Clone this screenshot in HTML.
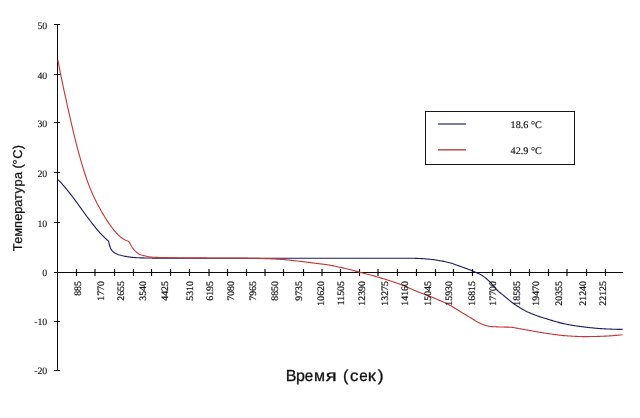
<!DOCTYPE html>
<html><head><meta charset="utf-8"><style>
html,body{margin:0;padding:0;background:#fff;width:640px;height:418px;overflow:hidden;position:relative;font-family:"Liberation Sans",sans-serif}
</style></head><body>
<svg width="640" height="418" viewBox="0 0 640 418" style="position:absolute;left:0;top:0;will-change:transform;text-rendering:geometricPrecision">
<g stroke="#0a0a0a" stroke-width="1" fill="none" shape-rendering="crispEdges">
<path d="M57.5 24 V371 M57 272.5 H623"/>
<path d="M54 24.5 H60 M54 74.5 H60 M54 122.5 H60 M54 172.5 H60 M54 222.5 H60 M54 272.5 H60 M54 321.5 H60 M54 370.5 H60"/>
</g>
<path stroke="#0a0a0a" stroke-width="1.15" fill="none" d="M76.5 269 V276 M95.0 269 V276 M114.5 269 V276 M133.5 269 V276 M151.5 269 V276 M170.5 269 V276 M189.5 269 V276 M209.0 269 V276 M227.5 269 V276 M246.5 269 V276 M265.0 269 V276 M283.5 269 V276 M303.5 269 V276 M322.0 269 V276 M340.5 269 V276 M359.5 269 V276 M378.0 269 V276 M397.5 269 V276 M416.5 269 V276 M435.5 269 V276 M453.5 269 V276 M472.5 269 V276 M492.5 269 V276 M510.5 269 V276 M529.5 269 V276 M548.5 269 V276 M567.0 269 V276 M586.5 269 V276 M605.5 269 V276"/>
<g>
</g>
<path d="M57.90,179.60 L58.90,180.58 59.90,181.60 60.90,182.65 61.90,183.73 62.90,184.84 63.90,185.98 64.90,187.15 65.90,188.34 66.90,189.56 67.90,190.80 68.90,192.05 69.90,193.33 70.90,194.63 71.90,195.94 72.90,197.26 73.90,198.60 74.90,199.95 75.90,201.31 76.90,202.67 77.90,204.05 78.90,205.43 79.90,206.81 80.90,208.19 81.90,209.57 82.90,210.96 83.90,212.34 84.90,213.71 85.90,215.08 86.90,216.45 87.90,217.80 88.90,219.14 89.90,220.47 90.90,221.79 91.90,223.09 92.90,224.38 93.90,225.65 94.90,226.90 95.90,228.12 96.90,229.33 97.90,230.50 98.90,231.66 99.90,232.78 100.90,233.88 101.90,234.95 102.90,235.98 103.90,236.98 104.90,237.95 105.90,238.87 106.90,239.76 107.90,240.61 108.50,241.10 L108.50,241.10 L109.50,245.00 110.50,248.00 111.50,249.91 112.50,251.16 113.50,252.07 114.50,252.75 115.50,253.34 116.50,253.85 117.50,254.29 118.50,254.67 119.50,254.99 120.50,255.28 121.50,255.56 122.50,255.80 123.50,256.02 124.50,256.22 125.50,256.40 126.50,256.56 127.50,256.71 128.50,256.86 129.50,257.00 130.50,257.14 131.50,257.26 132.50,257.37 133.50,257.48 134.50,257.56 135.50,257.63 136.50,257.69 137.50,257.73 138.50,257.76 139.50,257.80 140.50,257.83 141.50,257.87 142.50,257.89 143.50,257.92 144.50,257.95 145.50,257.97 146.50,257.99 147.50,258.01 148.50,258.03 149.50,258.05 150.50,258.06 151.50,258.07 152.50,258.09 153.50,258.09 154.50,258.10 155.50,258.10 156.50,258.11 157.50,258.11 158.50,258.12 159.50,258.12 160.50,258.12 161.50,258.13 162.50,258.13 163.50,258.14 164.50,258.14 165.50,258.14 166.50,258.15 167.50,258.15 168.50,258.15 169.50,258.16 170.50,258.16 171.50,258.16 172.50,258.16 173.50,258.17 174.50,258.17 175.50,258.17 176.50,258.17 177.50,258.18 178.50,258.18 179.50,258.18 180.50,258.18 181.50,258.18 182.50,258.19 183.50,258.19 184.50,258.19 185.50,258.19 186.50,258.19 187.50,258.19 188.50,258.19 189.50,258.19 190.50,258.20 191.50,258.20 192.50,258.20 193.50,258.20 194.50,258.20 195.50,258.20 196.50,258.20 197.50,258.20 198.50,258.20 199.50,258.20 200.50,258.20 201.50,258.20 202.50,258.20 203.50,258.20 204.50,258.20 205.50,258.20 206.50,258.20 207.50,258.20 208.50,258.20 209.50,258.20 210.50,258.20 211.50,258.20 212.50,258.20 213.50,258.20 214.50,258.20 215.50,258.20 216.50,258.20 217.50,258.20 218.50,258.20 219.50,258.20 220.50,258.20 221.50,258.20 222.50,258.20 223.50,258.20 224.50,258.20 225.50,258.20 226.50,258.20 227.50,258.20 228.50,258.20 229.50,258.20 230.50,258.20 231.50,258.20 232.50,258.20 233.50,258.20 234.50,258.20 235.50,258.20 236.50,258.20 237.50,258.20 238.50,258.20 239.50,258.20 240.50,258.20 241.50,258.20 242.50,258.20 243.50,258.20 244.50,258.20 245.50,258.20 246.50,258.20 247.50,258.20 248.50,258.20 249.50,258.20 250.50,258.20 251.50,258.20 252.50,258.20 253.50,258.20 254.50,258.20 255.50,258.20 256.50,258.20 257.50,258.20 258.50,258.20 259.50,258.20 260.50,258.20 261.50,258.20 262.50,258.20 263.50,258.20 264.50,258.20 265.50,258.20 266.50,258.20 267.50,258.20 268.50,258.20 269.50,258.20 270.50,258.20 271.50,258.20 272.50,258.20 273.50,258.20 274.50,258.20 275.50,258.20 276.50,258.20 277.50,258.20 278.50,258.20 279.50,258.20 280.50,258.20 281.50,258.20 282.50,258.20 283.50,258.20 284.50,258.20 285.50,258.20 286.50,258.20 287.50,258.20 288.50,258.20 289.50,258.20 290.50,258.20 291.50,258.20 292.50,258.20 293.50,258.20 294.50,258.20 295.50,258.20 296.50,258.20 297.50,258.20 298.50,258.20 299.50,258.20 300.50,258.20 301.50,258.20 302.50,258.20 303.50,258.20 304.50,258.20 305.50,258.20 306.50,258.20 307.50,258.20 308.50,258.20 309.50,258.20 310.50,258.20 311.50,258.20 312.50,258.20 313.50,258.20 314.50,258.20 315.50,258.20 316.50,258.20 317.50,258.20 318.50,258.20 319.50,258.20 320.50,258.20 321.50,258.20 322.50,258.20 323.50,258.20 324.50,258.20 325.50,258.20 326.50,258.20 327.50,258.20 328.50,258.20 329.50,258.20 330.50,258.20 331.50,258.20 332.50,258.20 333.50,258.20 334.50,258.20 335.50,258.20 336.50,258.20 337.50,258.20 338.50,258.20 339.50,258.20 340.50,258.20 341.50,258.20 342.50,258.20 343.50,258.20 344.50,258.20 345.50,258.20 346.50,258.20 347.50,258.20 348.50,258.20 349.50,258.20 350.50,258.20 351.50,258.20 352.50,258.20 353.50,258.20 354.50,258.20 355.50,258.20 356.50,258.20 357.50,258.20 358.50,258.20 359.50,258.20 360.50,258.20 361.50,258.20 362.50,258.20 363.50,258.20 364.50,258.20 365.50,258.20 366.50,258.20 367.50,258.20 368.50,258.20 369.50,258.20 370.50,258.20 371.50,258.20 372.50,258.20 373.50,258.20 374.50,258.20 375.50,258.20 376.50,258.20 377.50,258.20 378.50,258.20 379.50,258.20 380.50,258.20 381.50,258.20 382.50,258.20 383.50,258.20 384.50,258.20 385.50,258.20 386.50,258.20 387.50,258.20 388.50,258.20 389.50,258.20 390.50,258.20 391.50,258.20 392.50,258.20 393.50,258.20 394.50,258.20 395.50,258.20 396.50,258.20 397.50,258.20 398.50,258.20 399.50,258.20 400.50,258.20 401.50,258.20 402.50,258.20 403.50,258.21 404.50,258.21 405.50,258.22 406.50,258.22 407.50,258.23 408.50,258.24 409.50,258.25 410.50,258.26 411.50,258.27 412.50,258.28 413.50,258.29 414.50,258.31 415.50,258.33 416.50,258.36 417.50,258.39 418.50,258.43 419.50,258.48 420.50,258.52 421.50,258.58 422.50,258.64 423.50,258.70 424.50,258.78 425.50,258.86 426.50,258.94 427.50,259.03 428.50,259.12 429.50,259.22 430.50,259.32 431.50,259.43 432.50,259.54 433.50,259.67 434.50,259.81 435.50,259.96 436.50,260.11 437.50,260.28 438.50,260.44 439.50,260.61 440.50,260.79 441.50,260.96 442.50,261.15 443.50,261.34 444.50,261.53 445.50,261.74 446.50,261.96 447.50,262.18 448.50,262.42 449.50,262.67 450.50,262.95 451.50,263.25 452.50,263.58 453.50,263.93 454.50,264.30 455.50,264.67 456.50,265.05 457.50,265.42 458.50,265.79 459.50,266.14 460.50,266.49 461.50,266.83 462.50,267.18 463.50,267.52 464.50,267.87 465.50,268.22 466.50,268.58 467.50,268.95 468.50,269.32 469.50,269.71 470.50,270.11 471.50,270.51 472.50,270.93 473.50,271.36 474.50,271.79 475.50,272.25 476.50,272.70 477.50,273.15 478.50,273.62 479.50,274.10 480.50,274.60 481.50,275.14 482.50,275.73 483.50,276.36 484.50,277.08 485.50,277.87 486.50,278.72 487.50,279.62 488.50,280.55 489.50,281.51 490.50,282.51 491.50,283.61 492.50,284.79 493.50,286.00 494.50,287.21 495.50,288.39 496.50,289.50 497.50,290.49 498.50,291.40 499.50,292.24 500.50,293.04 501.50,293.82 502.50,294.60 503.50,295.40 504.50,296.23 505.50,297.07 506.50,297.91 507.50,298.76 508.50,299.61 509.50,300.44 510.50,301.25 511.50,302.04 512.50,302.79 513.50,303.50 514.50,304.19 515.50,304.86 516.50,305.53 517.50,306.19 518.50,306.83 519.50,307.46 520.50,308.08 521.50,308.68 522.50,309.26 523.50,309.83 524.50,310.37 525.50,310.90 526.50,311.41 527.50,311.89 528.50,312.36 529.50,312.80 530.50,313.23 531.50,313.64 532.50,314.05 533.50,314.44 534.50,314.82 535.50,315.20 536.50,315.56 537.50,315.92 538.50,316.27 539.50,316.61 540.50,316.94 541.50,317.27 542.50,317.59 543.50,317.91 544.50,318.22 545.50,318.53 546.50,318.84 547.50,319.15 548.50,319.45 549.50,319.75 550.50,320.05 551.50,320.35 552.50,320.65 553.50,320.95 554.50,321.24 555.50,321.53 556.50,321.81 557.50,322.09 558.50,322.36 559.50,322.62 560.50,322.88 561.50,323.13 562.50,323.37 563.50,323.61 564.50,323.83 565.50,324.04 566.50,324.24 567.50,324.43 568.50,324.62 569.50,324.81 570.50,324.99 571.50,325.16 572.50,325.33 573.50,325.50 574.50,325.66 575.50,325.82 576.50,325.97 577.50,326.12 578.50,326.27 579.50,326.41 580.50,326.54 581.50,326.67 582.50,326.80 583.50,326.92 584.50,327.04 585.50,327.16 586.50,327.27 587.50,327.38 588.50,327.49 589.50,327.60 590.50,327.71 591.50,327.82 592.50,327.92 593.50,328.02 594.50,328.12 595.50,328.21 596.50,328.30 597.50,328.38 598.50,328.46 599.50,328.54 600.50,328.61 601.50,328.67 602.50,328.73 603.50,328.79 604.50,328.83 605.50,328.88 606.50,328.93 607.50,328.97 608.50,329.02 609.50,329.06 610.50,329.10 611.50,329.14 612.50,329.18 613.50,329.22 614.50,329.25 615.50,329.28 616.50,329.31 617.50,329.33 618.50,329.35 619.50,329.37 620.50,329.38 621.50,329.39 622.50,329.40 622.60,329.40" stroke="#1c1c66" stroke-width="1.1" fill="none" stroke-linejoin="round"/>
<path d="M57.90,60.22 L58.90,65.46 59.90,70.55 60.90,75.52 61.90,80.37 62.90,85.12 63.90,89.80 64.90,94.42 65.90,98.99 66.90,103.53 67.90,108.05 68.90,112.53 69.90,116.98 70.90,121.36 71.90,125.68 72.90,129.92 73.90,134.08 74.90,138.15 75.90,142.14 76.90,146.03 77.90,149.84 78.90,153.55 79.90,157.17 80.90,160.69 81.90,164.11 82.90,167.43 83.90,170.65 84.90,173.77 85.90,176.78 86.90,179.68 87.90,182.47 88.90,185.15 89.90,187.71 90.90,190.16 91.90,192.50 92.90,194.75 93.90,196.91 94.90,198.99 95.90,201.01 96.90,202.97 97.90,204.89 98.90,206.76 99.90,208.60 100.90,210.40 101.90,212.16 102.90,213.88 103.90,215.56 104.90,217.20 105.90,218.80 106.90,220.36 107.90,221.88 108.90,223.35 109.90,224.78 110.90,226.17 111.90,227.52 112.90,228.82 113.90,230.07 114.90,231.27 115.90,232.41 116.90,233.50 117.90,234.53 118.90,235.50 119.90,236.40 120.90,237.24 121.90,238.01 122.90,238.71 123.90,239.33 124.90,239.88 125.90,240.35 126.90,240.75 127.90,241.06 128.50,241.20 L128.50,241.20 L129.50,242.60 130.50,244.50 131.50,246.21 132.50,247.76 133.50,249.18 134.50,250.35 135.50,251.35 136.50,252.20 137.50,252.97 138.50,253.68 139.50,254.27 140.50,254.70 141.50,255.05 142.50,255.34 143.50,255.60 144.50,255.84 145.50,256.07 146.50,256.29 147.50,256.50 148.50,256.68 149.50,256.84 150.50,256.96 151.50,257.06 152.50,257.16 153.50,257.23 154.50,257.29 155.50,257.33 156.50,257.38 157.50,257.41 158.50,257.45 159.50,257.48 160.50,257.51 161.50,257.54 162.50,257.57 163.50,257.59 164.50,257.61 165.50,257.63 166.50,257.65 167.50,257.67 168.50,257.68 169.50,257.69 170.50,257.71 171.50,257.72 172.50,257.73 173.50,257.74 174.50,257.75 175.50,257.76 176.50,257.76 177.50,257.77 178.50,257.78 179.50,257.79 180.50,257.80 181.50,257.80 182.50,257.81 183.50,257.82 184.50,257.82 185.50,257.83 186.50,257.83 187.50,257.84 188.50,257.85 189.50,257.85 190.50,257.86 191.50,257.86 192.50,257.87 193.50,257.87 194.50,257.88 195.50,257.88 196.50,257.88 197.50,257.89 198.50,257.89 199.50,257.90 200.50,257.90 201.50,257.91 202.50,257.91 203.50,257.91 204.50,257.92 205.50,257.92 206.50,257.92 207.50,257.93 208.50,257.93 209.50,257.93 210.50,257.94 211.50,257.94 212.50,257.94 213.50,257.94 214.50,257.95 215.50,257.95 216.50,257.95 217.50,257.95 218.50,257.96 219.50,257.96 220.50,257.96 221.50,257.97 222.50,257.97 223.50,257.97 224.50,257.98 225.50,257.98 226.50,257.98 227.50,257.99 228.50,257.99 229.50,258.00 230.50,258.00 231.50,258.01 232.50,258.01 233.50,258.02 234.50,258.03 235.50,258.04 236.50,258.04 237.50,258.05 238.50,258.06 239.50,258.07 240.50,258.08 241.50,258.09 242.50,258.10 243.50,258.11 244.50,258.13 245.50,258.14 246.50,258.15 247.50,258.16 248.50,258.18 249.50,258.19 250.50,258.21 251.50,258.22 252.50,258.24 253.50,258.26 254.50,258.29 255.50,258.31 256.50,258.34 257.50,258.36 258.50,258.39 259.50,258.42 260.50,258.45 261.50,258.48 262.50,258.52 263.50,258.55 264.50,258.58 265.50,258.62 266.50,258.65 267.50,258.69 268.50,258.73 269.50,258.77 270.50,258.81 271.50,258.85 272.50,258.90 273.50,258.94 274.50,258.99 275.50,259.04 276.50,259.09 277.50,259.15 278.50,259.21 279.50,259.27 280.50,259.33 281.50,259.40 282.50,259.48 283.50,259.56 284.50,259.65 285.50,259.74 286.50,259.84 287.50,259.94 288.50,260.05 289.50,260.15 290.50,260.26 291.50,260.38 292.50,260.49 293.50,260.61 294.50,260.72 295.50,260.84 296.50,260.95 297.50,261.07 298.50,261.18 299.50,261.29 300.50,261.40 301.50,261.52 302.50,261.63 303.50,261.75 304.50,261.87 305.50,261.99 306.50,262.11 307.50,262.23 308.50,262.36 309.50,262.48 310.50,262.61 311.50,262.73 312.50,262.86 313.50,262.99 314.50,263.11 315.50,263.24 316.50,263.37 317.50,263.50 318.50,263.63 319.50,263.75 320.50,263.88 321.50,264.01 322.50,264.13 323.50,264.26 324.50,264.39 325.50,264.53 326.50,264.66 327.50,264.81 328.50,264.96 329.50,265.12 330.50,265.28 331.50,265.46 332.50,265.65 333.50,265.84 334.50,266.05 335.50,266.26 336.50,266.47 337.50,266.70 338.50,266.92 339.50,267.16 340.50,267.39 341.50,267.63 342.50,267.86 343.50,268.10 344.50,268.34 345.50,268.58 346.50,268.81 347.50,269.06 348.50,269.30 349.50,269.55 350.50,269.80 351.50,270.06 352.50,270.32 353.50,270.58 354.50,270.84 355.50,271.10 356.50,271.36 357.50,271.62 358.50,271.89 359.50,272.15 360.50,272.41 361.50,272.67 362.50,272.93 363.50,273.19 364.50,273.45 365.50,273.71 366.50,273.97 367.50,274.23 368.50,274.49 369.50,274.75 370.50,275.02 371.50,275.29 372.50,275.56 373.50,275.84 374.50,276.12 375.50,276.40 376.50,276.68 377.50,276.97 378.50,277.27 379.50,277.56 380.50,277.85 381.50,278.15 382.50,278.45 383.50,278.75 384.50,279.06 385.50,279.36 386.50,279.67 387.50,279.98 388.50,280.30 389.50,280.62 390.50,280.94 391.50,281.27 392.50,281.60 393.50,281.94 394.50,282.28 395.50,282.62 396.50,282.97 397.50,283.32 398.50,283.68 399.50,284.05 400.50,284.42 401.50,284.81 402.50,285.22 403.50,285.63 404.50,286.05 405.50,286.48 406.50,286.91 407.50,287.35 408.50,287.79 409.50,288.23 410.50,288.67 411.50,289.12 412.50,289.56 413.50,289.99 414.50,290.43 415.50,290.85 416.50,291.27 417.50,291.68 418.50,292.08 419.50,292.47 420.50,292.85 421.50,293.22 422.50,293.59 423.50,293.96 424.50,294.33 425.50,294.69 426.50,295.06 427.50,295.44 428.50,295.81 429.50,296.20 430.50,296.60 431.50,297.00 432.50,297.41 433.50,297.83 434.50,298.25 435.50,298.67 436.50,299.09 437.50,299.52 438.50,299.95 439.50,300.38 440.50,300.81 441.50,301.24 442.50,301.66 443.50,302.09 444.50,302.52 445.50,302.96 446.50,303.42 447.50,303.90 448.50,304.41 449.50,304.94 450.50,305.51 451.50,306.09 452.50,306.69 453.50,307.30 454.50,307.93 455.50,308.56 456.50,309.19 457.50,309.82 458.50,310.44 459.50,311.06 460.50,311.66 461.50,312.27 462.50,312.87 463.50,313.48 464.50,314.09 465.50,314.70 466.50,315.31 467.50,315.92 468.50,316.52 469.50,317.12 470.50,317.73 471.50,318.32 472.50,318.92 473.50,319.55 474.50,320.19 475.50,320.84 476.50,321.46 477.50,322.06 478.50,322.61 479.50,323.10 480.50,323.52 481.50,323.92 482.50,324.31 483.50,324.69 484.50,325.05 485.50,325.39 486.50,325.69 487.50,325.95 488.50,326.16 489.50,326.33 490.50,326.44 491.50,326.53 492.50,326.61 493.50,326.69 494.50,326.76 495.50,326.81 496.50,326.87 497.50,326.91 498.50,326.95 499.50,326.98 500.50,327.01 501.50,327.04 502.50,327.06 503.50,327.07 504.50,327.08 505.50,327.10 506.50,327.11 507.50,327.13 508.50,327.15 509.50,327.18 510.50,327.21 511.50,327.29 512.50,327.41 513.50,327.56 514.50,327.74 515.50,327.93 516.50,328.13 517.50,328.33 518.50,328.51 519.50,328.68 520.50,328.86 521.50,329.03 522.50,329.21 523.50,329.39 524.50,329.57 525.50,329.75 526.50,329.93 527.50,330.11 528.50,330.28 529.50,330.46 530.50,330.63 531.50,330.81 532.50,330.99 533.50,331.17 534.50,331.35 535.50,331.52 536.50,331.70 537.50,331.88 538.50,332.05 539.50,332.23 540.50,332.40 541.50,332.57 542.50,332.73 543.50,332.89 544.50,333.05 545.50,333.21 546.50,333.36 547.50,333.50 548.50,333.64 549.50,333.79 550.50,333.93 551.50,334.08 552.50,334.22 553.50,334.37 554.50,334.51 555.50,334.65 556.50,334.78 557.50,334.91 558.50,335.04 559.50,335.16 560.50,335.28 561.50,335.39 562.50,335.49 563.50,335.58 564.50,335.67 565.50,335.75 566.50,335.81 567.50,335.88 568.50,335.94 569.50,336.00 570.50,336.06 571.50,336.12 572.50,336.18 573.50,336.24 574.50,336.29 575.50,336.34 576.50,336.39 577.50,336.43 578.50,336.47 579.50,336.51 580.50,336.54 581.50,336.56 582.50,336.58 583.50,336.59 584.50,336.60 585.50,336.60 586.50,336.60 587.50,336.59 588.50,336.58 589.50,336.57 590.50,336.56 591.50,336.54 592.50,336.52 593.50,336.50 594.50,336.48 595.50,336.45 596.50,336.43 597.50,336.40 598.50,336.37 599.50,336.34 600.50,336.31 601.50,336.28 602.50,336.24 603.50,336.21 604.50,336.17 605.50,336.13 606.50,336.09 607.50,336.03 608.50,335.97 609.50,335.91 610.50,335.84 611.50,335.76 612.50,335.69 613.50,335.60 614.50,335.51 615.50,335.42 616.50,335.33 617.50,335.23 618.50,335.13 619.50,335.03 620.50,334.93 621.50,334.82 622.50,334.71 622.60,334.70" stroke="#c83434" stroke-width="1.1" fill="none" stroke-linejoin="round"/>
<g font-family="Liberation Serif" font-size="9.9" fill="#111" stroke="#111" stroke-width="0.1" text-anchor="end">
<text x="47.3" y="28.50">50</text>
<text x="47.3" y="78.50">40</text>
<text x="47.3" y="126.90">30</text>
<text x="47.3" y="176.60">20</text>
<text x="47.3" y="226.60">10</text>
<text x="47.3" y="276.30">0</text>
<text x="47.3" y="325.20">-10</text>
<text x="47.3" y="374.40">-20</text>
</g>
<g font-family="Liberation Serif" font-size="9.9" fill="#111" stroke="#111" stroke-width="0.2" text-anchor="end">
<text transform="translate(80.55,281.0) rotate(-90)">885</text>
<text transform="translate(103.90,281.0) rotate(-90)">1770</text>
<text transform="translate(124.30,281.0) rotate(-90)">2655</text>
<text transform="translate(146.05,281.0) rotate(-90)">3540</text>
<text transform="translate(168.15,281.0) rotate(-90)">4425</text>
<text transform="translate(193.20,281.0) rotate(-90)">5310</text>
<text transform="translate(213.30,281.0) rotate(-90)">6195</text>
<text transform="translate(234.30,281.0) rotate(-90)">7080</text>
<text transform="translate(256.30,281.0) rotate(-90)">7965</text>
<text transform="translate(277.70,281.0) rotate(-90)">8850</text>
<text transform="translate(301.90,281.0) rotate(-90)">9735</text>
<text transform="translate(323.60,281.0) rotate(-90)">10620</text>
<text transform="translate(344.30,281.0) rotate(-90)">11505</text>
<text transform="translate(365.40,281.0) rotate(-90)">12390</text>
<text transform="translate(387.70,281.0) rotate(-90)">13275</text>
<text transform="translate(408.30,281.0) rotate(-90)">14160</text>
<text transform="translate(430.80,281.0) rotate(-90)">15045</text>
<text transform="translate(452.30,281.0) rotate(-90)">15930</text>
<text transform="translate(474.90,281.0) rotate(-90)">16815</text>
<text transform="translate(496.00,281.0) rotate(-90)">17700</text>
<text transform="translate(520.00,281.0) rotate(-90)">18585</text>
<text transform="translate(539.30,281.0) rotate(-90)">19470</text>
<text transform="translate(562.30,281.0) rotate(-90)">20355</text>
<text transform="translate(585.50,281.0) rotate(-90)">21240</text>
<text transform="translate(605.80,281.0) rotate(-90)">22125</text>
</g>
<text transform="translate(21.6,251) rotate(-90)" font-family="Liberation Sans" font-size="12.8" fill="#111" stroke="#111" stroke-width="0.25"><tspan x="-0.31">Т</tspan><tspan x="7.25">е</tspan><tspan x="14.30">м</tspan><tspan x="23.13">п</tspan><tspan x="30.20">е</tspan><tspan x="37.25">р</tspan><tspan x="44.27">а</tspan><tspan x="51.07">т</tspan><tspan x="57.60">у</tspan><tspan x="64.60">р</tspan><tspan x="72.02">а</tspan><tspan x="82.56">(</tspan><tspan x="86.64">°</tspan><tspan x="92.30">C</tspan><tspan x="101.68">)</tspan></text>
<g font-family="Liberation Sans" font-size="16" fill="#111" stroke="#111" stroke-width="0.3">
<text transform="translate(291.25,380.6) scale(1,1)" x="-5.57">В</text>
<text transform="translate(300.60,380.6) scale(1,1)" x="-4.63">р</text>
<text transform="translate(309.05,380.6) scale(0.95,1)" x="-4.43">е</text>
<text transform="translate(319.60,380.6) scale(1.0,1)" x="-5.50">м</text>
<text transform="translate(330.60,380.6) scale(1.25,1)" x="-3.84">я</text>
<text transform="translate(346.00,380.6) scale(1,1)" x="-3.11">(</text>
<text transform="translate(354.45,380.6) scale(1.05,1)" x="-4.13">с</text>
<text transform="translate(363.55,380.6) scale(0.95,1)" x="-4.43">е</text>
<text transform="translate(372.45,380.6) scale(1.15,1)" x="-4.08">к</text>
<text transform="translate(380.20,380.6) scale(1.1,1)" x="-2.21">)</text>
</g>
<rect x="425.5" y="111.5" width="149" height="53" fill="none" stroke="#151515" stroke-width="1" shape-rendering="crispEdges"/>
<line x1="438" y1="124" x2="466" y2="124" stroke="#50508e" stroke-width="1.5"/>
<line x1="438" y1="149.8" x2="466" y2="149.8" stroke="#b85050" stroke-width="1.5"/>
<g font-family="Liberation Serif" font-size="10.2" fill="#111" stroke="#111" stroke-width="0.15">
<text x="510.6" y="128.3">18.6 °C</text>
<text x="510.6" y="154.2">42.9 °C</text>
</g>
</svg>
</body></html>
